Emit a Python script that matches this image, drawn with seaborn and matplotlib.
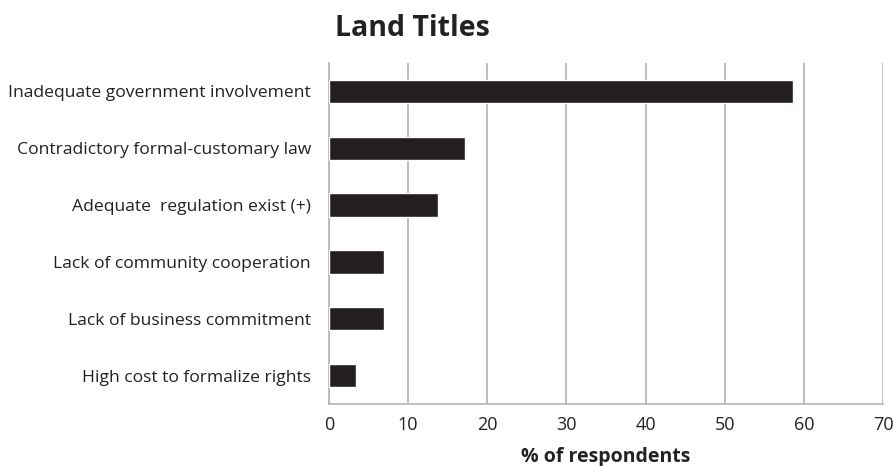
import matplotlib
matplotlib.use("Agg")
import matplotlib.pyplot as plt
import seaborn as sns
import pandas as pd

categories = [
    "Inadequate government involvement",
    "Contradictory formal-customary law",
    "Adequate  regulation exist (+)",
    "Lack of community cooperation",
    "Lack of business commitment",
    "High cost to formalize rights",
]
values = [58.6, 17.2, 13.8, 6.9, 6.9, 3.4]
x_ticks = [0, 10, 20, 30, 40, 50, 60, 70]

sns.set_theme(style="white")
plt.rcParams["font.family"] = ["Open Sans", "DejaVu Sans"]

df = pd.DataFrame({"reason": categories, "pct": values})

fig = plt.figure(figsize=(8.95, 4.66), dpi=100)
ax = fig.add_axes([329 / 895, 1 - 404 / 466, (883 - 329) / 895, (404 - 63) / 466])

sns.barplot(data=df, x="pct", y="reason", orient="h", color="#231f20",
            width=0.41, saturation=1, ax=ax, zorder=3)

ax.set_xlim(0, 70)
ax.set_xticks(x_ticks)
ax.set_xticklabels([str(t) for t in x_ticks], fontsize=13, color="#222222")
ax.tick_params(axis="y", labelsize=12.6, colors="#222222", length=0, pad=13)
ax.tick_params(axis="x", length=0, pad=9)
ax.grid(axis="x", color="#b3b3b3", linewidth=1.2, zorder=0)
ax.set_ylabel("")
ax.set_xlabel("% of respondents", fontsize=14, fontweight="bold", color="#222222", labelpad=9)

for side in ["top", "right"]:
    ax.spines[side].set_visible(False)
for side in ["left", "bottom"]:
    ax.spines[side].set_color("#b3b3b3")
    ax.spines[side].set_linewidth(1.2)

fig.text(412 / 895, 1 - 29 / 466, "Land Titles", ha="center", va="center",
         fontsize=20.5, fontweight="bold", color="#222222")

fig.savefig("out.png", dpi=100)
